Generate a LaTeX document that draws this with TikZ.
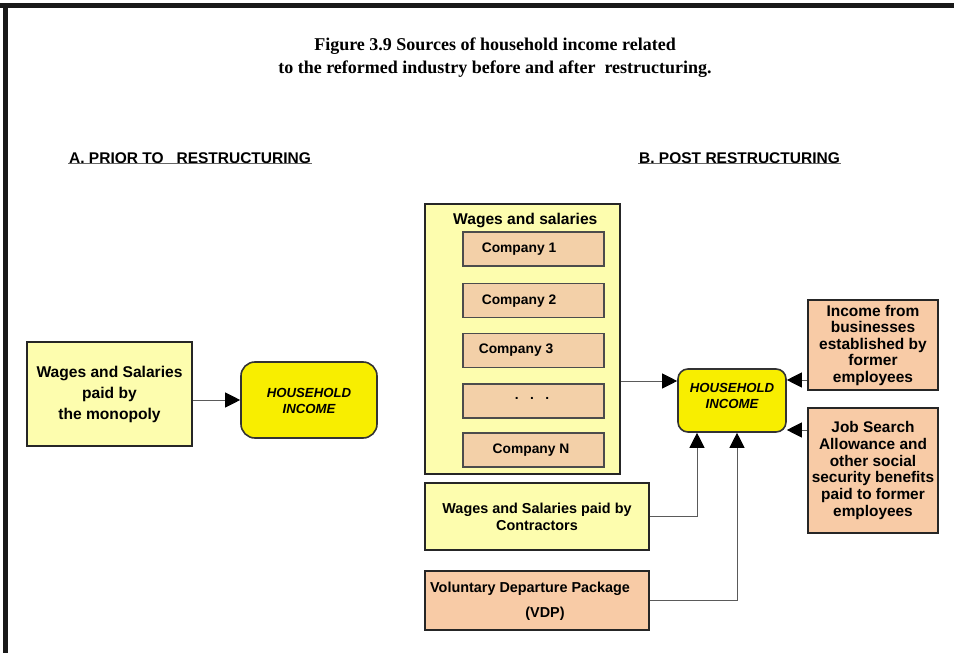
\documentclass[tikz,border=0pt]{standalone}
\usepackage{fontspec}
\setmainfont{Liberation Sans}
\newfontfamily\titlefont{Liberation Serif}
\newfontfamily\headfont{Liberation Sans}
\usetikzlibrary{arrows.meta}
\definecolor{paleyellow}{HTML}{FDFDAE}
\definecolor{brightyellow}{HTML}{F8EE00}
\definecolor{peach}{HTML}{F8CBA6}
\definecolor{compfill}{HTML}{F3D0A8}
\definecolor{linkgray}{HTML}{5A5A5A}
\begin{document}
\begin{tikzpicture}[x=1pt,y=-1pt,
  box/.style={draw=black!85,line width=2pt,align=center,inner sep=2pt,
    font=\bfseries\fontsize{15}{17}\selectfont},
  palebox/.style={box,fill=paleyellow},
  peachbox/.style={box,fill=peach},
  compbox/.style={draw=black!70,line width=1.4pt,fill=compfill,
    minimum width=141pt,minimum height=34pt},
  complabel/.style={font=\bfseries\fontsize{13.8}{16}\selectfont,inner sep=0pt},
  hhbox/.style={draw=black!80,line width=1.6pt,fill=brightyellow},
  hhlabel/.style={align=center,font=\bfseries\itshape\fontsize{13.2}{16}\selectfont},
  link/.style={draw=linkgray,line width=1pt,
    -{Triangle[length=15pt,width=15pt,color=black]}},
  heading/.style={font=\headfont\bfseries\fontsize{15.5}{18}\selectfont,inner sep=1pt}
]
\useasboundingbox (0,0) rectangle (954,653);
\fill[white] (0,0) rectangle (954,653);
% frame edges
\fill[black!90] (0,3) rectangle (954,8);
\fill[black!90] (3,3) rectangle (8,653);

% title
\node[font=\titlefont\bfseries\fontsize{18}{23}\selectfont,align=center]
  (title) at (495,58) {Figure 3.9 Sources of household income related\\
  to the reformed industry before and after\ \ restructuring.};

% section headings
\node[heading,anchor=west] (headA) at (68,158) {A. PRIOR TO\ \ \ RESTRUCTURING};
\draw[black!60,line width=1.4pt] ([yshift=1pt]headA.south west) -- ([yshift=1pt]headA.south east);
\node[heading,anchor=west] (headB) at (638,158) {B. POST RESTRUCTURING};
\draw[black!60,line width=1.4pt] ([yshift=1pt]headB.south west) -- ([yshift=1pt]headB.south east);

% A: before restructuring
\node[palebox,minimum width=165pt,minimum height=104pt,
  font=\bfseries\fontsize{15.6}{21}\selectfont] (mono) at (109.5,394)
  {Wages and Salaries\\ paid by\\ the monopoly};
\node[hhbox,rounded corners=14pt,minimum width=136pt,minimum height=76pt]
  (hhA) at (309,400) {};
\node[hhlabel] (hhAtext) at (309,401) {HOUSEHOLD\\ INCOME};
\draw[link] (mono.east |- hhA.west) -- (hhA.west);

% B: after restructuring
\node[palebox,minimum width=195pt,minimum height=270pt] (wages) at (522.5,339) {};
\node[anchor=west,font=\bfseries\fontsize{15.6}{17}\selectfont,inner sep=0pt]
  (wagestitle) at (453,220) {Wages and salaries};
\node[compbox] (c1) at (533.5,249) {};
\node[complabel] (c1text) at (519,249.5) {Company 1};
\node[compbox] (c2) at (533.5,300.5) {};
\node[complabel] (c2text) at (519,301.5) {Company 2};
\node[compbox] (c3) at (533.5,350.5) {};
\node[complabel] (c3text) at (516,350) {Company 3};
\node[compbox] (cdots) at (533.5,401) {};
\node[complabel] (cdotstext) at (532,398) {.\ \ \ .\ \ \ .};
\node[compbox] (cn) at (533.5,450) {};
\node[complabel] (cntext) at (531,450.5) {Company N};

\node[hhbox,rounded corners=10pt,minimum width=108pt,minimum height=63pt]
  (hhB) at (732,400.5) {};
\node[hhlabel] (hhBtext) at (732,396) {HOUSEHOLD\\ INCOME};

\node[peachbox,minimum width=130pt,minimum height=90pt,
  font=\bfseries\fontsize{15.5}{16.5}\selectfont] (biz) at (873,345)
  {Income from\\ businesses\\ established by\\ former\\ employees};
\node[peachbox,minimum width=130pt,minimum height=125pt,
  font=\bfseries\fontsize{15.4}{16.8}\selectfont] (jsa) at (873,470.5)
  {Job Search\\ Allowance and\\ other social\\ security benefits\\ paid to former\\ employees};

\node[palebox,minimum width=224pt,minimum height=67pt,
  font=\bfseries\fontsize{14.4}{17}\selectfont] (contr) at (537,516.5)
  {Wages and Salaries paid by\\ Contractors};
\node[peachbox,minimum width=224pt,minimum height=59pt] (vdp) at (537,600.5) {};
\node[anchor=west,font=\bfseries\fontsize{14.4}{16}\selectfont,inner sep=0pt]
  (vdpname) at (430,589) {Voluntary Departure Package};
\node[font=\bfseries\fontsize{14.4}{16}\selectfont,inner sep=0pt]
  (vdpabbr) at (545,614) {(VDP)};

% connectors into household income
\coordinate (wagesout) at (620,381);
\draw[link] (wages.east |- wagesout) -- (hhB.west |- wagesout);
\coordinate (bizin) at (800,380);
\draw[link] (biz.west |- bizin) -- (hhB.east |- bizin);
\coordinate (jsain) at (800,430);
\draw[link] (jsa.west |- jsain) -- (hhB.east |- jsain);
\draw[link] (contr.east) -| ([xshift=-35pt]hhB.south);
\draw[link] (vdp.east) -| ([xshift=5pt]hhB.south);
\end{tikzpicture}
\end{document}
